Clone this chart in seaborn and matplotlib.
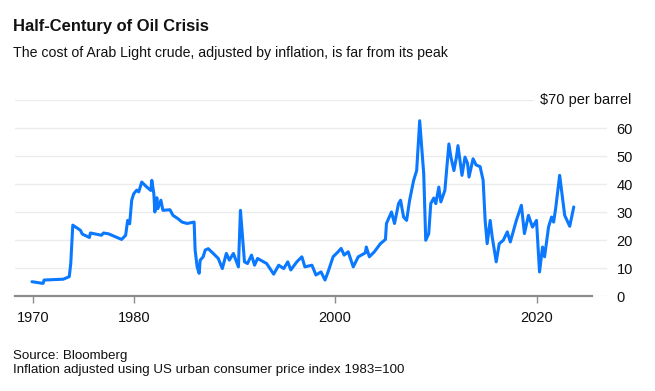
import numpy as np
import pandas as pd
import matplotlib
matplotlib.use("Agg")
import matplotlib.pyplot as plt
import seaborn as sns

# Arab Light crude, inflation adjusted (1983=100)
years = [
    1969.9, 1971.0, 1971.1, 1973.0, 1973.6, 1973.75, 1973.95, 1974.7, 1974.9, 1975.6,
    1975.7, 1976.8, 1977.0, 1977.5, 1978.8, 1979.2, 1979.4, 1979.6, 1979.8, 1980.0,
    1980.3, 1980.5, 1980.8, 1981.3, 1981.7, 1981.8, 1982.0, 1982.1, 1982.3, 1982.4,
    1982.7, 1982.9, 1983.6, 1983.9, 1984.4, 1984.8, 1985.3, 1985.6, 1986.0, 1986.1,
    1986.3, 1986.5, 1986.6, 1986.9, 1987.1, 1987.4, 1987.9, 1988.4, 1988.8, 1989.2,
    1989.5, 1989.9, 1990.4, 1990.6, 1991.0, 1991.3, 1991.7, 1992.0, 1992.3, 1993.2,
    1993.9, 1994.4, 1994.9, 1995.3, 1995.6, 1996.2, 1996.7, 1997.0, 1997.7, 1998.1,
    1998.6, 1999.0, 1999.3, 1999.8, 2000.3, 2000.6, 2000.9, 2001.3, 2001.8, 2002.3,
    2003.0, 2003.1, 2003.4, 2003.9, 2004.5, 2005.0, 2005.1, 2005.6, 2005.9, 2006.3,
    2006.5, 2006.8, 2007.1, 2007.4, 2007.8, 2008.1, 2008.4, 2008.8, 2009.0, 2009.3,
    2009.5, 2009.8, 2010.0, 2010.3, 2010.5, 2010.9, 2011.3, 2011.5, 2011.8, 2012.05,
    2012.2, 2012.6, 2012.9, 2013.15, 2013.3, 2013.7, 2014.0, 2014.4, 2014.7, 2014.9,
    2015.1, 2015.4, 2015.6, 2016.0, 2016.3, 2016.7, 2017.1, 2017.4, 2018.0, 2018.5,
    2018.8, 2019.2, 2019.6, 2020.0, 2020.3, 2020.6, 2020.8, 2021.2, 2021.5, 2021.7,
    2021.9, 2022.3, 2022.8, 2023.3, 2023.7,
]
prices = [
    5.1, 4.5, 5.7, 6.0, 6.9, 11.6, 25.3, 23.5, 22.1, 20.9,
    22.5, 21.7, 22.5, 22.2, 20.2, 21.7, 27.0, 25.8, 34.2, 36.5,
    37.8, 37.2, 40.7, 38.9, 37.7, 41.3, 36.5, 30.0, 35.1, 31.2,
    34.2, 30.6, 30.8, 28.8, 27.6, 26.4, 25.9, 26.1, 26.4, 16.4,
    10.4, 8.1, 12.8, 14.0, 16.4, 16.9, 15.2, 13.4, 9.8, 15.2,
    12.8, 15.2, 10.4, 30.6, 12.2, 11.6, 14.6, 11.0, 13.4, 11.6,
    7.8, 11.0, 9.8, 12.2, 9.3, 12.2, 14.0, 10.4, 11.0, 7.5,
    8.6, 5.7, 8.6, 14.0, 15.8, 17.0, 14.6, 15.8, 10.4, 14.0,
    15.4, 17.5, 14.0, 15.8, 18.7, 20.2, 25.9, 30.0, 25.9, 33.0,
    34.2, 28.2, 27.0, 34.2, 41.3, 44.8, 62.6, 43.7, 19.9, 22.3,
    33.0, 35.0, 33.0, 38.9, 33.6, 37.7, 54.3, 49.6, 44.8, 49.6,
    53.7, 43.1, 49.6, 47.4, 42.5, 49.0, 46.8, 46.2, 41.3, 27.0,
    18.7, 27.0, 21.1, 12.2, 18.7, 19.9, 22.9, 19.3, 27.0, 32.4,
    22.3, 28.8, 24.6, 27.0, 8.6, 17.5, 14.0, 24.7, 28.2, 26.4,
    31.2, 43.1, 28.8, 24.9, 31.8,
]
xtick_years = [1970, 1980, 2000, 2020]
ytick_values = [0, 10, 20, 30, 40, 50, 60]

title = "Half-Century of Oil Crisis"
subtitle = "The cost of Arab Light crude, adjusted by inflation, is far from its peak"
unit_label = "$70 per barrel"
notes = ["Source: Bloomberg",
         "Inflation adjusted using US urban consumer price index 1983=100"]

df = pd.DataFrame({"year": years, "price": prices})

sns.set_theme(style="white")
plt.rcParams["font.family"] = ["Liberation Sans", "DejaVu Sans"]

W, H = 655, 391
fig = plt.figure(figsize=(W / 100, H / 100), dpi=100)
# axes spans the gridline extent (x 15..607 px, y 100..296 px)
ax = fig.add_axes([15 / W, 1 - 296 / H, (607 - 15) / W, (296 - 100) / H])

sns.lineplot(data=df, x="year", y="price", ax=ax, color="#0a78ff",
             linewidth=2.2, estimator=None, sort=False)

px_per_year = 10.07
ax.set_xlim(1970 - (33 - 15) / px_per_year, 1970 + (607 - 33) / px_per_year)
ax.set_ylim(0, 70)

ax.set_xlabel("")
ax.set_ylabel("")

# horizontal grid, top line shortened to make room for the unit label
for v in ytick_values[1:]:
    ax.axhline(v, color="#ececec", linewidth=1.0, zorder=0)
ax.axhline(70, xmax=(533 - 15) / (607 - 15), color="#ececec", linewidth=1.0, zorder=0)
ax.axhline(0, xmin=(592 - 15) / (607 - 15), color="#ececec", linewidth=1.0, zorder=0)

for s in ["top", "left", "right"]:
    ax.spines[s].set_visible(False)
ax.spines["bottom"].set_color("#8c8c8c")
ax.spines["bottom"].set_linewidth(1.6)
ax.spines["bottom"].set_bounds(1970 - (33 - 15) / px_per_year,
                               1970 + (592 - 33) / px_per_year)

ax.set_xticks(xtick_years)
ax.set_xticklabels([str(y) for y in xtick_years])
ax.tick_params(axis="x", length=5, width=1, color="#8c8c8c", pad=6,
               labelsize=10.5, labelcolor="#111111", bottom=True)

ax.yaxis.tick_right()
ax.set_yticks(ytick_values)
ax.set_yticklabels([str(v) for v in ytick_values])
ax.tick_params(axis="y", length=0, pad=7, labelsize=10.5, labelcolor="#111111")

ax.text((540 - 15) / (607 - 15), 70, unit_label, transform=ax.get_yaxis_transform(),
        ha="left", va="center", fontsize=10.5, color="#111111")

fig.text(13 / W, 1 - 31.5 / H, title, ha="left", va="baseline",
         fontsize=11.9, fontweight="bold", color="#111111")
fig.text(13 / W, 1 - 57 / H, subtitle, ha="left", va="baseline",
         fontsize=10.2, color="#111111")
fig.text(13 / W, 1 - 359 / H, notes[0], ha="left", va="baseline",
         fontsize=9.6, color="#111111")
fig.text(13 / W, 1 - 372.5 / H, notes[1], ha="left", va="baseline",
         fontsize=9.6, color="#111111")

fig.savefig("out.png", dpi=100)
